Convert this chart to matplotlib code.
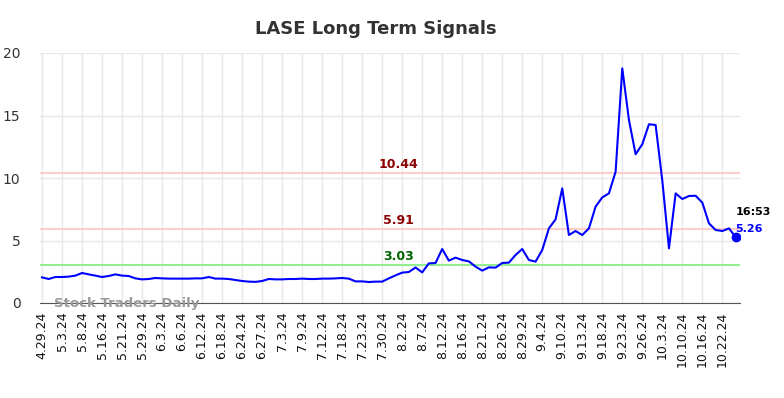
import numpy as np
import matplotlib
matplotlib.use("Agg")
import matplotlib.pyplot as plt

# === DATA ===
TITLE = "LASE Long Term Signals"

tick_labels = [
    "4.29.24", "5.3.24", "5.8.24", "5.16.24", "5.21.24", "5.29.24", "6.3.24",
    "6.6.24", "6.12.24", "6.18.24", "6.24.24", "6.27.24", "7.3.24", "7.9.24",
    "7.12.24", "7.18.24", "7.23.24", "7.30.24", "8.2.24", "8.7.24", "8.12.24",
    "8.16.24", "8.21.24", "8.26.24", "8.29.24", "9.4.24", "9.10.24", "9.13.24",
    "9.18.24", "9.23.24", "9.26.24", "10.3.24", "10.10.24", "10.16.24", "10.22.24",
]
tick_step = 3

prices = [
    2.05, 1.92, 2.08, 2.08, 2.11, 2.19, 2.40, 2.29, 2.19, 2.08,
    2.16, 2.29, 2.19, 2.16, 1.97, 1.89, 1.92, 2.00, 1.97, 1.95,
    1.95, 1.95, 1.95, 1.97, 1.97, 2.08, 1.95, 1.95, 1.92, 1.84,
    1.76, 1.71, 1.69, 1.76, 1.92, 1.89, 1.89, 1.92, 1.92, 1.95,
    1.92, 1.92, 1.95, 1.95, 1.97, 2.00, 1.95, 1.73, 1.73, 1.68,
    1.71, 1.71, 1.97, 2.21, 2.43, 2.48, 2.84, 2.45, 3.17, 3.20,
    4.32, 3.39, 3.63, 3.44, 3.33, 2.91, 2.59, 2.85, 2.83, 3.20,
    3.23, 3.84, 4.32, 3.44, 3.31, 4.24, 5.97, 6.69, 9.17, 5.44,
    5.76, 5.44, 5.97, 7.71, 8.45, 8.77, 10.50, 18.77, 14.64, 11.90,
    12.70, 14.30, 14.24, 9.80, 4.37, 8.77, 8.32, 8.56, 8.58, 8.03,
    6.37, 5.84, 5.76, 5.97, 5.26,
]

levels = [10.44, 5.91, 3.03]
level_line_colors = ["#ffcccc", "#ffcccc", "#90ee90"]
level_text_colors = ["#8b0000", "#8b0000", "#006400"]

last_time = "16:53"
# === END DATA ===

x = np.arange(len(prices))

fig = plt.figure(figsize=(7.84, 3.98), dpi=100)
ax = fig.add_axes([40 / 784, 1 - 303 / 398, 700 / 784, 250 / 398])

ax.plot(x, prices, color="blue", lw=1.5, zorder=3)
ax.plot(x[-1], prices[-1], "o", color="blue", ms=6, zorder=4)

for lvl, lc, tc in zip(levels, level_line_colors, level_text_colors):
    ax.axhline(lvl, color=lc, lw=1.5, zorder=2)
    ax.text(53.5, lvl + 0.15, f"{lvl:.2f}", color=tc, fontsize=9,
            fontweight="bold", ha="center", va="bottom")

ax.text(x[-1], prices[-1] + 1.6, last_time, color="black", fontsize=8,
        fontweight="bold", ha="left", va="bottom")
ax.text(x[-1], prices[-1] + 0.3, f"{prices[-1]:.2f}", color="blue",
        fontsize=8, fontweight="bold", ha="left", va="bottom")

ax.text(1.8, 0.0, "Stock Traders Daily", color="#999999", fontsize=9.5,
        fontweight="bold", ha="left", va="center", zorder=5)

ax.set_xlim(-0.3, 104.65)
ax.set_ylim(0, 20)
ax.set_yticks([0, 5, 10, 15, 20])
tick_pos = np.arange(0, len(tick_labels) * tick_step, tick_step)
ax.set_xticks(tick_pos)
ax.set_xticklabels(tick_labels, rotation=90, fontsize=9, color="#111111")
ax.tick_params(axis="y", labelsize=10, colors="#333333", length=0, pad=14)
ax.tick_params(axis="x", length=0, pad=6)
ax.grid(True, color="#e8e8e8", lw=1)
ax.set_axisbelow(True)
for s in ["top", "right", "left"]:
    ax.spines[s].set_visible(False)
ax.spines["bottom"].set_color("#555555")

ax.set_title(TITLE, fontsize=13, fontweight="bold", color="#333333", pad=14, x=0.48)

fig.savefig("out.png", dpi=100)
